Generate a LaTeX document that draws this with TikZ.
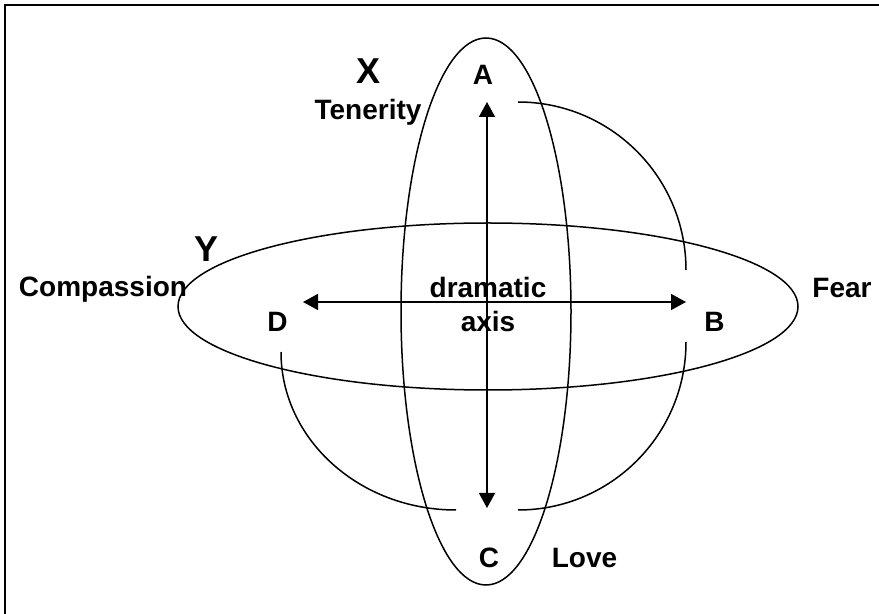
\documentclass[tikz,border=0pt]{standalone}
\usepackage{fontspec}
\setmainfont{Liberation Sans}
\usetikzlibrary{arrows.meta}
\tikzset{
  every node/.style={font=\fontsize{14}{16}\selectfont\bfseries, inner sep=0pt},
  pole/.style     = {anchor=base},
  axisname/.style = {anchor=base, font=\fontsize{18}{20}\selectfont\bfseries},
  ring/.style     = {draw=black, line width=0.75pt},
  link/.style     = {draw=black, line width=0.75pt},
  arrow/.style    = {{Triangle[length=7.5pt,width=8pt]}-{Triangle[length=7.5pt,width=8pt]}, line width=0.75pt},
  frame/.style    = {line width=1.3pt},
}

\begin{document}
\begin{tikzpicture}[x=0.5pt, y=0.5pt]
  \useasboundingbox (0,0) rectangle (879,-614);

  % frame, top and left edges only
  \draw[frame] (4,-5) -- (879,-5);
  \draw[frame] (5,-4) -- (5,-614);

  % X and Y ellipses
  \draw[ring] (486,-311.5) ellipse [x radius=85, y radius=273.5];
  \draw[ring] (488,-306.5) ellipse [x radius=310, y radius=83.5];

  % poles
  \node[pole] (A) at (483,-85)   {A};
  \node[pole] (B) at (714.5,-332) {B};
  \node[pole] (C) at (489,-568)  {C};
  \node[pole] (D) at (277.5,-332) {D};

  \node[pole] (fear)       at (842,-298)   {Fear};
  \node[pole] (love)       at (584.5,-568) {Love};
  \node[pole] (compassion) at (103,-297)   {Compassion};
  \node[pole] (tenerity)   at (368,-120)   {Tenerity};
  \node[axisname] (X) at (368.5,-84)  {X};
  \node[axisname] (Y) at (206.5,-262) {Y};

  \node[pole] (drama) at (488,-298) {dramatic};
  \node[pole] (axis)  at (488,-332) {axis};

  % dramatic axis
  \coordinate (aTip) at (487,-102);
  \coordinate (cTip) at (487,-508);
  \coordinate (dTip) at (303,-302);
  \coordinate (bTip) at (686,-302);
  \draw[arrow] (cTip) -- (aTip);
  \draw[arrow] (dTip) -- (bTip);

  % arcs between the poles
  \coordinate (abStart) at (518,-102);
  \coordinate (bcStart) at (686,-342);
  \coordinate (dcStart) at (281,-352);
  \draw[link] (abStart) arc[start angle=90, end angle=0, radius=168];
  \draw[link] (bcStart) arc[start angle=0, end angle=-90, radius=168];
  \draw[link] (dcStart) arc[start angle=180, end angle=270, x radius=175, y radius=158];
\end{tikzpicture}
\end{document}
